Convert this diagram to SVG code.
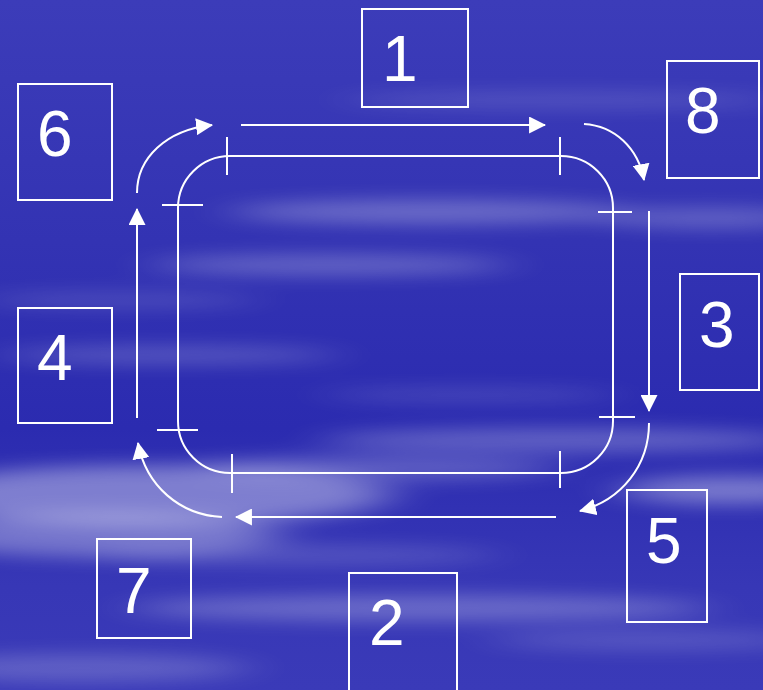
<svg xmlns="http://www.w3.org/2000/svg" width="763" height="690" viewBox="0 0 763 690">
  <defs>
    <linearGradient id="sky" x1="0" y1="0" x2="0" y2="1">
      <stop offset="0" stop-color="#3c3cb9"/>
      <stop offset="0.35" stop-color="#3333b3"/>
      <stop offset="0.62" stop-color="#2b2bb0"/>
      <stop offset="0.85" stop-color="#3737b6"/>
      <stop offset="1" stop-color="#3a3ab8"/>
    </linearGradient>
    <filter id="haze" filterUnits="userSpaceOnUse" x="-100" y="-50" width="963" height="790">
      <feGaussianBlur stdDeviation="26 9"/>
    </filter>
    <marker id="head" viewBox="0 0 16 16" refX="15" refY="8" markerWidth="17" markerHeight="17" markerUnits="userSpaceOnUse" orient="auto">
      <path d="M0,0 L16,8 L0,16 Z" fill="#ffffff"/>
    </marker>
    <style>
      .box { fill: none; stroke: #ffffff; stroke-width: 2; }
      .num { fill: #ffffff; font-family: "Liberation Sans", Arial, sans-serif; font-size: 64px; }
      .frame { fill: none; stroke: #ffffff; stroke-width: 2; }
      .tick { stroke: #ffffff; stroke-width: 2; }
      .flow { fill: none; stroke: #ffffff; stroke-width: 2; marker-end: url(#head); }
    </style>
  </defs>

  <!-- sky background with soft cloud streaks -->
  <rect width="763" height="690" fill="url(#sky)"/>
  <g filter="url(#haze)" fill="#ffffff">
    <ellipse cx="560" cy="100" rx="220" ry="8" opacity="0.14"/>
    <ellipse cx="430" cy="212" rx="200" ry="12" opacity="0.28"/>
    <ellipse cx="710" cy="218" rx="110" ry="10" opacity="0.24"/>
    <ellipse cx="330" cy="265" rx="180" ry="10" opacity="0.26"/>
    <ellipse cx="120" cy="300" rx="140" ry="8" opacity="0.14"/>
    <ellipse cx="170" cy="355" rx="170" ry="9" opacity="0.2"/>
    <ellipse cx="470" cy="395" rx="150" ry="7" opacity="0.14"/>
    <ellipse cx="560" cy="440" rx="240" ry="12" opacity="0.26"/>
    <ellipse cx="150" cy="495" rx="240" ry="30" opacity="0.38"/>
    <ellipse cx="100" cy="535" rx="180" ry="22" opacity="0.32"/>
    <ellipse cx="730" cy="490" rx="110" ry="14" opacity="0.36"/>
    <ellipse cx="380" cy="468" rx="180" ry="12" opacity="0.24"/>
    <ellipse cx="300" cy="555" rx="200" ry="10" opacity="0.16"/>
    <ellipse cx="420" cy="608" rx="290" ry="13" opacity="0.26"/>
    <ellipse cx="650" cy="640" rx="160" ry="10" opacity="0.16"/>
    <ellipse cx="80" cy="668" rx="170" ry="14" opacity="0.2"/>
  </g>

  <!-- central loop with tick marks -->
  <g id="loop">
    <rect class="frame" x="178" y="156" width="435" height="317" rx="52" ry="52"/>
    <line class="tick" x1="227" y1="137" x2="227" y2="175"/>
    <line class="tick" x1="560" y1="137" x2="560" y2="175"/>
    <line class="tick" x1="162" y1="205" x2="203" y2="205"/>
    <line class="tick" x1="157" y1="430" x2="198" y2="430"/>
    <line class="tick" x1="598" y1="212" x2="632" y2="212"/>
    <line class="tick" x1="599" y1="417" x2="635" y2="417"/>
    <line class="tick" x1="232" y1="454" x2="232" y2="493"/>
    <line class="tick" x1="560" y1="451" x2="560" y2="488"/>
  </g>

  <!-- clockwise flow arrows -->
  <g id="connectors">
    <path class="flow" d="M241,125 H545"/>
    <path class="flow" d="M584,124 C615,126 638,148 644,180"/>
    <path class="flow" d="M649,211 V411"/>
    <path class="flow" d="M649,423 C649,465 622,500 580,511"/>
    <path class="flow" d="M556,517 H236"/>
    <path class="flow" d="M222,517 C180,515 146,486 138,443"/>
    <path class="flow" d="M137,418 V209"/>
    <path class="flow" d="M137,193 C137,158 166,130 212,125"/>
  </g>

  <!-- numbered boxes -->
  <g id="box1"><rect class="box" x="362" y="9" width="106" height="98"/><text class="num" x="382" y="81">1</text></g>
  <g id="box2"><rect class="box" x="349" y="573" width="108" height="120"/><text class="num" x="369" y="645">2</text></g>
  <g id="box3"><rect class="box" x="680" y="274" width="79" height="116"/><text class="num" x="699" y="347">3</text></g>
  <g id="box4"><rect class="box" x="18" y="308" width="94" height="115"/><text class="num" x="37" y="380">4</text></g>
  <g id="box5"><rect class="box" x="627" y="490" width="80" height="132"/><text class="num" x="646" y="563">5</text></g>
  <g id="box6"><rect class="box" x="18" y="84" width="94" height="116"/><text class="num" x="37" y="156">6</text></g>
  <g id="box7"><rect class="box" x="97" y="539" width="94" height="99"/><text class="num" x="116" y="613">7</text></g>
  <g id="box8"><rect class="box" x="667" y="61" width="92" height="117"/><text class="num" x="685" y="133">8</text></g>
</svg>
